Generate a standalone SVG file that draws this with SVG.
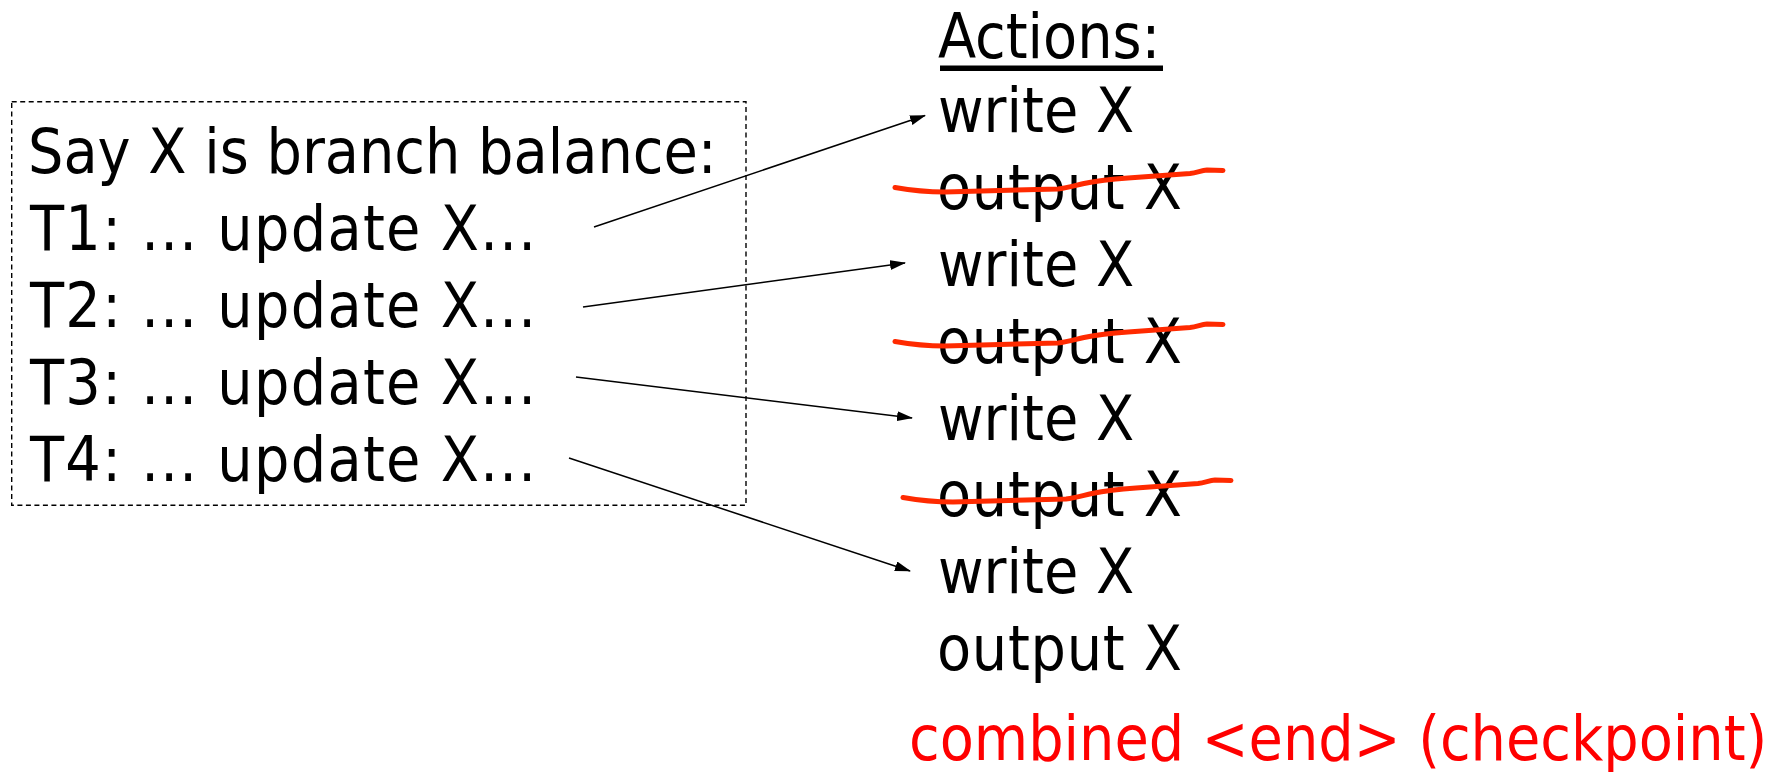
<svg xmlns="http://www.w3.org/2000/svg" width="1781" height="772" viewBox="0 0 1781 772">
<style>
text{font-family:"DejaVu Sans Condensed","DejaVu Sans",sans-serif;font-stretch:condensed;font-size:62px;fill:#000}
.red{fill:#ff0000}
.box{fill:none;stroke:#000;stroke-width:1.4;stroke-dasharray:5 3.5}
.conn{stroke:#000;stroke-width:1.5;fill:none;marker-end:url(#ah)}
.strike{fill:none;stroke:#ff2a00;stroke-width:5;stroke-linecap:round;stroke-linejoin:round}
</style>
<defs>
<marker id="ah" markerWidth="16" markerHeight="10" refX="15" refY="5" orient="auto" markerUnits="userSpaceOnUse">
<path d="M0,0 L16,5 L0,10 Z" fill="#000"/>
</marker>
<path id="sk" d="M895,187.5 C912,190.5 928,192 945,192 L1058,189 C1068,188 1075,185.5 1084,183.5 C1098,180.5 1112,179 1128,178 L1190,173.5 C1197,172.8 1201,170.5 1207,170 L1223,170.5"/>
</defs>
<g id="transactions">
<rect class="box" x="11.7" y="101.7" width="734.3" height="403.6"/>
<text x="28" y="173">Say X is branch balance:</text>
<text x="30" y="250" textLength="506" lengthAdjust="spacing">T1: ... update X...</text>
<text x="30" y="327" textLength="506" lengthAdjust="spacing">T2: ... update X...</text>
<text x="30" y="404" textLength="506" lengthAdjust="spacing">T3: ... update X...</text>
<text x="30" y="481" textLength="506" lengthAdjust="spacing">T4: ... update X...</text>
</g>
<g id="actions">
<text x="938" y="58">Actions:</text>
<rect x="940" y="65.5" width="223" height="5.5" fill="#000"/>
<text x="938" y="132">write X</text>
<text x="937" y="209" textLength="245" lengthAdjust="spacing">output X</text>
<text x="938" y="286">write X</text>
<text x="937" y="363" textLength="245" lengthAdjust="spacing">output X</text>
<text x="938" y="440">write X</text>
<text x="937" y="516" textLength="245" lengthAdjust="spacing">output X</text>
<text x="938" y="593">write X</text>
<text x="937" y="670" textLength="245" lengthAdjust="spacing">output X</text>
</g>
<g id="strikes">
<use href="#sk" class="strike"/>
<use href="#sk" class="strike" transform="translate(0,154)"/>
<use href="#sk" class="strike" transform="translate(8,310)"/>
</g>
<g id="note">
<text class="red" x="909" y="760">combined &lt;end&gt; (checkpoint)</text>
</g>
<g id="connectors">
<line class="conn" x1="594" y1="227" x2="925" y2="115.5"/>
<line class="conn" x1="583" y1="307" x2="905" y2="263"/>
<line class="conn" x1="576" y1="377" x2="912" y2="418"/>
<line class="conn" x1="569" y1="458" x2="910" y2="571"/>
</g>
</svg>
